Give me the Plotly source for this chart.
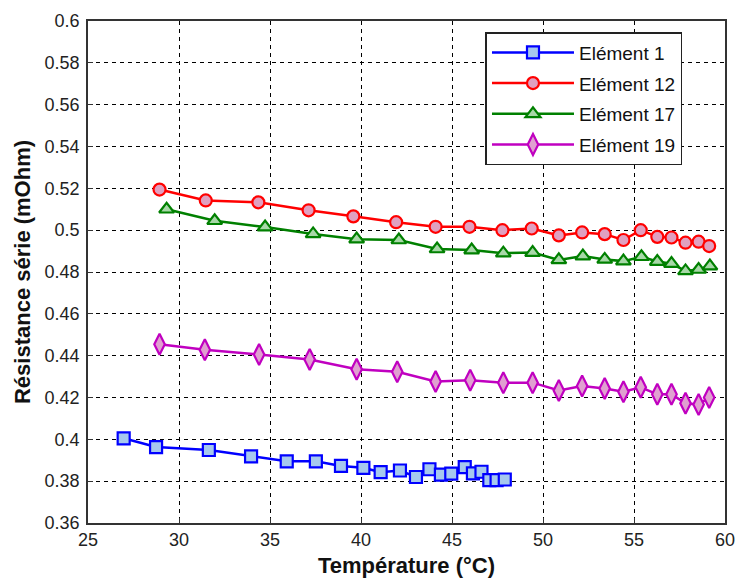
import plotly.graph_objects as go

x1 = [26.96, 28.74, 31.64, 33.96, 35.92, 37.52, 38.90, 40.13, 41.08, 42.14,
      43.02, 43.76, 44.39, 44.96, 45.70, 46.15, 46.62, 47.05, 47.45, 47.90]
y1 = [0.4005, 0.3963, 0.3949, 0.3919, 0.3895, 0.3895, 0.3873, 0.3864, 0.3843, 0.3851,
      0.3820, 0.3857, 0.3831, 0.3836, 0.3867, 0.3837, 0.3845, 0.3805, 0.3805, 0.3808]

x12 = [28.93, 31.47, 34.36, 37.12, 39.58, 41.93, 44.10, 45.96, 47.77, 49.38,
       50.87, 52.15, 53.39, 54.42, 55.37, 56.28, 57.06, 57.83, 58.55, 59.13]
y12 = [0.5194, 0.5142, 0.5133, 0.5095, 0.5066, 0.5038, 0.5016, 0.5016, 0.5000, 0.5008,
       0.4975, 0.4989, 0.4981, 0.4953, 0.5000, 0.4968, 0.4965, 0.4940, 0.4945, 0.4924]

x17 = [29.32, 31.96, 34.73, 37.37, 39.76, 42.08, 44.18, 46.08, 47.82, 49.43,
       50.87, 52.19, 53.39, 54.42, 55.41, 56.28, 57.06, 57.83, 58.55, 59.17]
y17 = [0.5100, 0.5045, 0.5015, 0.4982, 0.4957, 0.4953, 0.4910, 0.4905, 0.4890, 0.4893,
       0.4858, 0.4876, 0.4860, 0.4852, 0.4873, 0.4850, 0.4840, 0.4805, 0.4812, 0.4828]

x19 = [28.93, 31.42, 34.40, 37.18, 39.76, 41.99, 44.10, 46.00, 47.82, 49.43,
       50.87, 52.15, 53.39, 54.42, 55.37, 56.28, 57.06, 57.83, 58.55, 59.13]
y19 = [0.4455, 0.4428, 0.4406, 0.4382, 0.4335, 0.4323, 0.4277, 0.4283, 0.4271, 0.4271,
       0.4234, 0.4255, 0.4243, 0.4228, 0.4249, 0.4215, 0.4215, 0.4172, 0.4166, 0.4200]

names = ["Elément 1", "Elément 12", "Elément 17", "Elément 19"]
x_ticks = [25, 30, 35, 40, 45, 50, 55, 60]
y_ticks = [0.36, 0.38, 0.4, 0.42, 0.44, 0.46, 0.48, 0.5, 0.52, 0.54, 0.56, 0.58, 0.6]
y_ticklabels = ["0.36", "0.38", "0.4", "0.42", "0.44", "0.46", "0.48", "0.5",
                "0.52", "0.54", "0.56", "0.58", "0.6"]

styles = [
    dict(color="#0000ff", fill="#a6c8ee", symbol="square", size=12),
    dict(color="#ff0000", fill="#e0a0c0", symbol="circle", size=12),
    dict(color="#008000", fill="#a8d8a8", symbol="triangle-up", size=13),
    dict(color="#c000c0", fill="#e0a0d0", symbol="diamond-tall", size=15),
]

fig = go.Figure()
for i, ((xs, ys), name, st) in enumerate(zip([(x1, y1), (x12, y12), (x17, y17), (x19, y19)], names, styles)):
    fig.add_trace(go.Scatter(
        x=xs, y=ys, name=name, mode="lines+markers", legendgroup=f"g{i}",
        line=dict(color=st["color"], width=2.5),
        marker=dict(symbol=st["symbol"], size=st["size"], color=st["fill"],
                    line=dict(color=st["color"], width=2.2)),
    ))

axis_font = dict(family="Liberation Sans, Arial, sans-serif", size=18, color="#222222")
title_font = dict(family="Liberation Sans, Arial, sans-serif", size=22, color="#111111")
fig.update_layout(
    width=746, height=585,
    margin=dict(l=88, r=11, t=15, b=60),
    paper_bgcolor="white", plot_bgcolor="white",
    font=dict(family="Liberation Sans, Arial, sans-serif", color="#111111"),
    legend=dict(x=0.624, y=0.978, xanchor="left", yanchor="top",
                bgcolor="white", bordercolor="#222222", borderwidth=1.5,
                font=dict(size=19, color="#111111"),
                traceorder="grouped", tracegroupgap=3,
                itemwidth=82, entrywidth=200, entrywidthmode="pixels"),
    xaxis=dict(
        range=[25, 60], tickvals=x_ticks, ticktext=[str(v) for v in x_ticks],
        showgrid=True, gridcolor="#000000", griddash="4px,4px", gridwidth=1,
        showline=True, linecolor="#333333", linewidth=1.5, mirror=True,
        ticks="inside", ticklen=5, tickcolor="#333333", tickfont=axis_font,
        zeroline=False,
        title=dict(text="<b>Température (°C)</b>", font=title_font, standoff=8),
    ),
    yaxis=dict(
        range=[0.36, 0.6], tickvals=y_ticks, ticktext=y_ticklabels,
        showgrid=True, gridcolor="#000000", griddash="4px,4px", gridwidth=1,
        showline=True, linecolor="#333333", linewidth=1.5, mirror=True,
        ticks="inside", ticklen=5, tickcolor="#333333", tickfont=axis_font,
        zeroline=False, ticklabelstandoff=3,
        title=dict(text="<b>Résistance série (mOhm)</b>", font=title_font, standoff=8),
    ),
)

fig.write_html("out.html", config={"displayModeBar": False},
               post_script="document.body.style.margin='0';")
